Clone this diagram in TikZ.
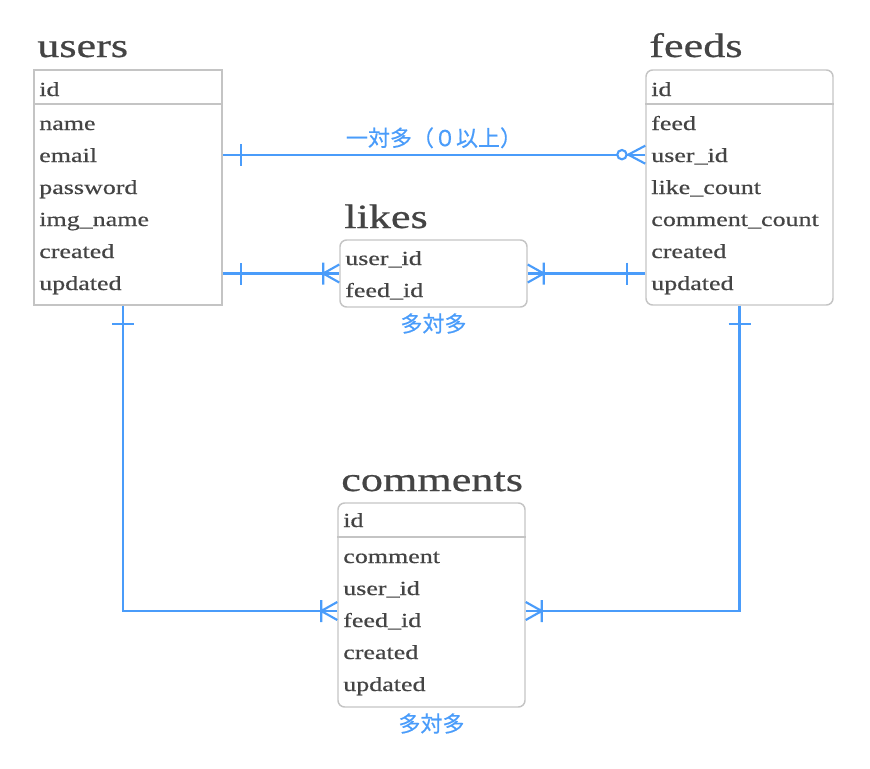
\documentclass[tikz,border=0pt]{standalone}
\usepackage{fontspec}
\setmainfont{Liberation Serif}[FakeStretch=1.3, FakeBold=0.6]
\newfontfamily\jpfont{Noto Sans CJK JP}[FakeBold=0.5]
\usetikzlibrary{positioning, fit, decorations.markings}
\definecolor{erblue}{RGB}{74,156,250}
\definecolor{tableborder}{RGB}{196,196,196}
\definecolor{fieldtext}{RGB}{68,68,68}
\tikzset{
    tablebox/.style={draw=tableborder, line width=1.1pt, inner sep=0pt},
    tablerule/.style={draw=tableborder, line width=1.1pt},
    tabletitle/.style={anchor=base west, inner sep=0pt, text=fieldtext,
        font=\fontsize{25.5}{30}\selectfont},
    field/.style={anchor=base west, inner sep=0pt, text height=11pt, text depth=0pt,
        text=fieldtext, font=\fontsize{15}{18}\selectfont},
    erlabel/.style={inner sep=1pt, text=erblue, font=\jpfont\fontsize{16.5}{20}\selectfont},
    erline/.style={draw=erblue, line width=1.6pt},
    one start/.style={postaction={decorate, decoration={markings,
        mark=at position 13.5pt with {\draw[erline] (0,-8.25pt) -- (0,8.25pt);}}}},
    crow end/.style={postaction={decorate, decoration={markings,
        mark=at position 0.99999 with {\draw[erline] (-12pt,-8.25pt) -- (-12pt,8.25pt)
            (0,-6.75pt) -- (-12pt,0) -- (0,6.75pt);}}}},
    zeromany end/.style={postaction={decorate, decoration={markings,
        mark=at position 0.99999 with {\draw[erline] (0,-6.75pt) -- (-12.75pt,0) -- (0,6.75pt);
            \draw[erline, fill=white] (-17.5pt,0) circle (3.5pt);}}}}
}

\begin{document}
\begin{tikzpicture}[x=0.75pt, y=-0.75pt]
    \useasboundingbox (0,0) rectangle (870,768);

    % users
    \node[tablebox, fit={(34,70) (222,305)}] (users) {};
    \node[tabletitle] (users-title) at (37,57) {users};
    \draw[tablerule] (users.west |- 0,104) -- (users.east |- 0,104);
    \node[field] (users-1) at (39,96) {id};
    \foreach \f [count=\i from 2] in {name,email,password,img\_name,created,updated}
        \node[field] (users-\i) at (39,{130+32*(\i-2)}) {\f};

    % feeds
    \node[tablebox, rounded corners=5pt, fit={(646,70) (833,305)}] (feeds) {};
    \node[tabletitle] (feeds-title) at (649,57) {feeds};
    \draw[tablerule] (feeds.west |- 0,104) -- (feeds.east |- 0,104);
    \node[field] (feeds-1) at (651,96) {id};
    \foreach \f [count=\i from 2] in {feed,user\_id,like\_count,comment\_count,created,updated}
        \node[field] (feeds-\i) at (651,{130+32*(\i-2)}) {\f};

    % likes
    \node[tablebox, rounded corners=5pt, fit={(340,240) (527,307)}] (likes) {};
    \node[tabletitle] (likes-title) at (344,228) {likes};
    \foreach \f [count=\i] in {user\_id,feed\_id}
        \node[field] (likes-\i) at (345,{265+32*(\i-1)}) {\f};
    \node[erlabel, below=3pt of likes] (likes-note) {多対多};

    % comments
    \node[tablebox, rounded corners=5pt, fit={(338,503) (525,707)}] (comments) {};
    \node[tabletitle] (comments-title) at (341,491) {comments};
    \draw[tablerule] (comments.west |- 0,537) -- (comments.east |- 0,537);
    \node[field] (comments-1) at (343,527) {id};
    \foreach \f [count=\i from 2] in {comment,user\_id,feed\_id,created,updated}
        \node[field] (comments-\i) at (343,{563+32*(\i-2)}) {\f};
    \node[erlabel, below=3pt of comments] (comments-note) {多対多};

    % relations
    \draw[erline, one start, zeromany end] (users.east |- users-3)
        -- node[erlabel, above=3pt] {一対多（０以上）} (feeds.west |- feeds-3);
    \draw[erline, one start, crow end] (users.east |- likes.west) -- (likes.west);
    \draw[erline, one start, crow end] (feeds.west |- likes.east) -- (likes.east);
    \draw[erline, one start, crow end] ([xshift=-3.75pt]users.south) |- ([yshift=-4.5pt]comments.west);
    \draw[erline, one start, crow end] (feeds.south) |- ([yshift=-4.5pt]comments.east);

\end{tikzpicture}
\end{document}
